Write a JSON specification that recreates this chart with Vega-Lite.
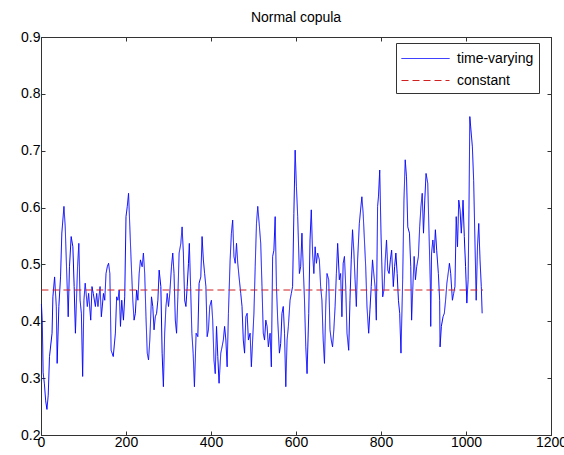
{
  "$schema": "https://vega.github.io/schema/vega-lite/v6.json",
  "width": 510,
  "height": 398,
  "autosize": "none",
  "padding": {"left": 41, "top": 37, "right": 13, "bottom": 20},
  "background": "white",
  "view": {"stroke": "#333", "strokeWidth": 1},
  "title": {"text": "Normal copula", "font": "Liberation Sans", "fontSize": 14, "fontWeight": "normal", "color": "#000", "offset": 5},
  "config": {"font": "Liberation Sans"},
  "data": {"values": [
    {"t":1,"v":0.43,"s":"time-varying"},{"t":3,"v":0.40,"s":"time-varying"},{"t":5,"v":0.31,"s":"time-varying"},{"t":8,"v":0.29,"s":"time-varying"},{"t":11,"v":0.26,"s":"time-varying"},{"t":14,"v":0.245,"s":"time-varying"},{"t":17,"v":0.27,"s":"time-varying"},
    {"t":20,"v":0.338,"s":"time-varying"},{"t":26,"v":0.379,"s":"time-varying"},{"t":28,"v":0.443,"s":"time-varying"},{"t":32,"v":0.478,"s":"time-varying"},{"t":36,"v":0.426,"s":"time-varying"},{"t":38,"v":0.326,"s":"time-varying"},{"t":42,"v":0.426,"s":"time-varying"},{"t":46,"v":0.478,"s":"time-varying"},{"t":49,"v":0.555,"s":"time-varying"},{"t":54,"v":0.602,"s":"time-varying"},{"t":57,"v":0.566,"s":"time-varying"},{"t":60,"v":0.496,"s":"time-varying"},{"t":64,"v":0.408,"s":"time-varying"},{"t":67,"v":0.496,"s":"time-varying"},{"t":71,"v":0.549,"s":"time-varying"},{"t":75,"v":0.531,"s":"time-varying"},{"t":78,"v":0.461,"s":"time-varying"},{"t":81,"v":0.379,"s":"time-varying"},{"t":86,"v":0.496,"s":"time-varying"},{"t":89,"v":0.537,"s":"time-varying"},{"t":92,"v":0.437,"s":"time-varying"},{"t":95,"v":0.414,"s":"time-varying"},{"t":98,"v":0.303,"s":"time-varying"},{"t":101,"v":0.437,"s":"time-varying"},{"t":104,"v":0.467,"s":"time-varying"},{"t":109,"v":0.426,"s":"time-varying"},{"t":112,"v":0.449,"s":"time-varying"},{"t":117,"v":0.402,"s":"time-varying"},{"t":120,"v":0.461,"s":"time-varying"},{"t":123,"v":0.449,"s":"time-varying"},{"t":128,"v":0.426,"s":"time-varying"},{"t":131,"v":0.449,"s":"time-varying"},{"t":134,"v":0.426,"s":"time-varying"},{"t":139,"v":0.461,"s":"time-varying"},{"t":142,"v":0.408,"s":"time-varying"},{"t":147,"v":0.449,"s":"time-varying"},{"t":150,"v":0.437,"s":"time-varying"},{"t":153,"v":0.484,"s":"time-varying"},{"t":156,"v":0.496,"s":"time-varying"},{"t":159,"v":0.502,"s":"time-varying"},{"t":162,"v":0.484,"s":"time-varying"},{"t":165,"v":0.349,"s":"time-varying"},{"t":170,"v":0.338,"s":"time-varying"},{"t":175,"v":0.379,"s":"time-varying"},
    {"t":178,"v":0.443,"s":"time-varying"},{"t":181,"v":0.437,"s":"time-varying"},{"t":184,"v":0.455,"s":"time-varying"},{"t":187,"v":0.391,"s":"time-varying"},{"t":190,"v":0.437,"s":"time-varying"},{"t":194,"v":0.402,"s":"time-varying"},{"t":197,"v":0.443,"s":"time-varying"},{"t":200,"v":0.584,"s":"time-varying"},{"t":203,"v":0.602,"s":"time-varying"},{"t":206,"v":0.625,"s":"time-varying"},{"t":209,"v":0.566,"s":"time-varying"},{"t":212,"v":0.508,"s":"time-varying"},{"t":216,"v":0.437,"s":"time-varying"},{"t":219,"v":0.402,"s":"time-varying"},{"t":222,"v":0.414,"s":"time-varying"},{"t":225,"v":0.455,"s":"time-varying"},{"t":228,"v":0.437,"s":"time-varying"},{"t":231,"v":0.484,"s":"time-varying"},{"t":234,"v":0.508,"s":"time-varying"},{"t":238,"v":0.496,"s":"time-varying"},{"t":241,"v":0.520,"s":"time-varying"},{"t":244,"v":0.484,"s":"time-varying"},{"t":247,"v":0.408,"s":"time-varying"},{"t":250,"v":0.344,"s":"time-varying"},{"t":253,"v":0.332,"s":"time-varying"},{"t":256,"v":0.367,"s":"time-varying"},{"t":260,"v":0.443,"s":"time-varying"},{"t":263,"v":0.426,"s":"time-varying"},{"t":266,"v":0.385,"s":"time-varying"},{"t":269,"v":0.408,"s":"time-varying"},{"t":272,"v":0.414,"s":"time-varying"},{"t":275,"v":0.437,"s":"time-varying"},{"t":278,"v":0.490,"s":"time-varying"},{"t":282,"v":0.461,"s":"time-varying"},{"t":285,"v":0.344,"s":"time-varying"},{"t":288,"v":0.285,"s":"time-varying"},{"t":291,"v":0.379,"s":"time-varying"},{"t":294,"v":0.426,"s":"time-varying"},{"t":297,"v":0.449,"s":"time-varying"},{"t":300,"v":0.426,"s":"time-varying"},{"t":303,"v":0.449,"s":"time-varying"},{"t":307,"v":0.496,"s":"time-varying"},{"t":310,"v":0.520,"s":"time-varying"},{"t":313,"v":0.484,"s":"time-varying"},{"t":316,"v":0.402,"s":"time-varying"},{"t":319,"v":0.379,"s":"time-varying"},{"t":322,"v":0.443,"s":"time-varying"},{"t":325,"v":0.520,"s":"time-varying"},{"t":329,"v":0.537,"s":"time-varying"},{"t":332,"v":0.566,"s":"time-varying"},{"t":335,"v":0.520,"s":"time-varying"},{"t":338,"v":0.437,"s":"time-varying"},{"t":341,"v":0.426,"s":"time-varying"},{"t":344,"v":0.461,"s":"time-varying"},{"t":347,"v":0.502,"s":"time-varying"},
    {"t":349,"v":0.537,"s":"time-varying"},{"t":352,"v":0.461,"s":"time-varying"},{"t":355,"v":0.379,"s":"time-varying"},{"t":358,"v":0.344,"s":"time-varying"},{"t":361,"v":0.285,"s":"time-varying"},{"t":365,"v":0.379,"s":"time-varying"},{"t":369,"v":0.373,"s":"time-varying"},{"t":372,"v":0.467,"s":"time-varying"},{"t":376,"v":0.478,"s":"time-varying"},{"t":379,"v":0.549,"s":"time-varying"},{"t":382,"v":0.508,"s":"time-varying"},{"t":385,"v":0.484,"s":"time-varying"},{"t":388,"v":0.461,"s":"time-varying"},{"t":391,"v":0.373,"s":"time-varying"},{"t":394,"v":0.385,"s":"time-varying"},{"t":397,"v":0.426,"s":"time-varying"},{"t":401,"v":0.437,"s":"time-varying"},{"t":404,"v":0.402,"s":"time-varying"},{"t":407,"v":0.332,"s":"time-varying"},{"t":410,"v":0.308,"s":"time-varying"},{"t":413,"v":0.391,"s":"time-varying"},{"t":416,"v":0.338,"s":"time-varying"},{"t":419,"v":0.291,"s":"time-varying"},{"t":423,"v":0.344,"s":"time-varying"},{"t":426,"v":0.355,"s":"time-varying"},{"t":429,"v":0.367,"s":"time-varying"},{"t":432,"v":0.391,"s":"time-varying"},{"t":435,"v":0.367,"s":"time-varying"},{"t":438,"v":0.320,"s":"time-varying"},{"t":441,"v":0.414,"s":"time-varying"},{"t":445,"v":0.508,"s":"time-varying"},{"t":448,"v":0.555,"s":"time-varying"},{"t":451,"v":0.578,"s":"time-varying"},{"t":454,"v":0.514,"s":"time-varying"},{"t":457,"v":0.502,"s":"time-varying"},{"t":460,"v":0.537,"s":"time-varying"},{"t":463,"v":0.502,"s":"time-varying"},{"t":466,"v":0.478,"s":"time-varying"},{"t":470,"v":0.449,"s":"time-varying"},{"t":473,"v":0.426,"s":"time-varying"},{"t":476,"v":0.367,"s":"time-varying"},{"t":479,"v":0.344,"s":"time-varying"},{"t":482,"v":0.408,"s":"time-varying"},{"t":485,"v":0.414,"s":"time-varying"},{"t":488,"v":0.367,"s":"time-varying"},{"t":492,"v":0.379,"s":"time-varying"},{"t":495,"v":0.320,"s":"time-varying"},{"t":498,"v":0.367,"s":"time-varying"},{"t":501,"v":0.414,"s":"time-varying"},{"t":504,"v":0.496,"s":"time-varying"},{"t":507,"v":0.572,"s":"time-varying"},{"t":510,"v":0.602,"s":"time-varying"},{"t":514,"v":0.566,"s":"time-varying"},{"t":517,"v":0.537,"s":"time-varying"},{"t":520,"v":0.461,"s":"time-varying"},{"t":523,"v":0.379,"s":"time-varying"},
    {"t":526,"v":0.367,"s":"time-varying"},{"t":529,"v":0.402,"s":"time-varying"},{"t":532,"v":0.391,"s":"time-varying"},{"t":535,"v":0.355,"s":"time-varying"},{"t":539,"v":0.379,"s":"time-varying"},{"t":542,"v":0.320,"s":"time-varying"},{"t":545,"v":0.514,"s":"time-varying"},{"t":548,"v":0.525,"s":"time-varying"},{"t":551,"v":0.584,"s":"time-varying"},{"t":554,"v":0.461,"s":"time-varying"},{"t":557,"v":0.402,"s":"time-varying"},{"t":561,"v":0.344,"s":"time-varying"},{"t":564,"v":0.361,"s":"time-varying"},{"t":567,"v":0.414,"s":"time-varying"},{"t":570,"v":0.426,"s":"time-varying"},{"t":573,"v":0.379,"s":"time-varying"},{"t":576,"v":0.285,"s":"time-varying"},{"t":579,"v":0.367,"s":"time-varying"},{"t":582,"v":0.391,"s":"time-varying"},{"t":586,"v":0.437,"s":"time-varying"},{"t":589,"v":0.449,"s":"time-varying"},{"t":592,"v":0.461,"s":"time-varying"},{"t":595,"v":0.590,"s":"time-varying"},{"t":598,"v":0.701,"s":"time-varying"},{"t":601,"v":0.637,"s":"time-varying"},{"t":604,"v":0.584,"s":"time-varying"},{"t":608,"v":0.484,"s":"time-varying"},{"t":611,"v":0.496,"s":"time-varying"},{"t":614,"v":0.555,"s":"time-varying"},{"t":617,"v":0.496,"s":"time-varying"},{"t":620,"v":0.437,"s":"time-varying"},{"t":623,"v":0.355,"s":"time-varying"},{"t":626,"v":0.308,"s":"time-varying"},{"t":630,"v":0.414,"s":"time-varying"},{"t":633,"v":0.543,"s":"time-varying"},{"t":636,"v":0.596,"s":"time-varying"},{"t":639,"v":0.520,"s":"time-varying"},{"t":642,"v":0.484,"s":"time-varying"},{"t":645,"v":0.531,"s":"time-varying"},{"t":648,"v":0.502,"s":"time-varying"},{"t":651,"v":0.520,"s":"time-varying"},{"t":655,"v":0.508,"s":"time-varying"},{"t":658,"v":0.461,"s":"time-varying"},{"t":661,"v":0.437,"s":"time-varying"},{"t":664,"v":0.367,"s":"time-varying"},{"t":667,"v":0.326,"s":"time-varying"},{"t":670,"v":0.426,"s":"time-varying"},{"t":673,"v":0.484,"s":"time-varying"},{"t":677,"v":0.473,"s":"time-varying"},{"t":680,"v":0.385,"s":"time-varying"},{"t":683,"v":0.367,"s":"time-varying"},{"t":686,"v":0.355,"s":"time-varying"},{"t":689,"v":0.385,"s":"time-varying"},{"t":692,"v":0.426,"s":"time-varying"},{"t":695,"v":0.484,"s":"time-varying"},
    {"t":698,"v":0.537,"s":"time-varying"},{"t":702,"v":0.473,"s":"time-varying"},{"t":705,"v":0.484,"s":"time-varying"},{"t":708,"v":0.408,"s":"time-varying"},{"t":711,"v":0.502,"s":"time-varying"},{"t":714,"v":0.514,"s":"time-varying"},{"t":717,"v":0.461,"s":"time-varying"},{"t":720,"v":0.379,"s":"time-varying"},{"t":724,"v":0.349,"s":"time-varying"},{"t":727,"v":0.437,"s":"time-varying"},{"t":730,"v":0.508,"s":"time-varying"},{"t":733,"v":0.561,"s":"time-varying"},{"t":736,"v":0.525,"s":"time-varying"},{"t":739,"v":0.473,"s":"time-varying"},{"t":742,"v":0.426,"s":"time-varying"},{"t":745,"v":0.508,"s":"time-varying"},{"t":749,"v":0.572,"s":"time-varying"},{"t":752,"v":0.596,"s":"time-varying"},{"t":755,"v":0.619,"s":"time-varying"},{"t":758,"v":0.590,"s":"time-varying"},{"t":761,"v":0.543,"s":"time-varying"},{"t":764,"v":0.496,"s":"time-varying"},{"t":767,"v":0.426,"s":"time-varying"},{"t":771,"v":0.379,"s":"time-varying"},{"t":774,"v":0.420,"s":"time-varying"},{"t":777,"v":0.461,"s":"time-varying"},{"t":780,"v":0.508,"s":"time-varying"},{"t":783,"v":0.484,"s":"time-varying"},{"t":786,"v":0.461,"s":"time-varying"},{"t":789,"v":0.402,"s":"time-varying"},{"t":792,"v":0.602,"s":"time-varying"},{"t":794,"v":0.619,"s":"time-varying"},{"t":797,"v":0.666,"s":"time-varying"},{"t":800,"v":0.555,"s":"time-varying"},{"t":804,"v":0.443,"s":"time-varying"},{"t":807,"v":0.455,"s":"time-varying"},{"t":810,"v":0.508,"s":"time-varying"},{"t":813,"v":0.543,"s":"time-varying"},{"t":816,"v":0.490,"s":"time-varying"},{"t":819,"v":0.484,"s":"time-varying"},{"t":822,"v":0.508,"s":"time-varying"},{"t":825,"v":0.525,"s":"time-varying"},{"t":829,"v":0.461,"s":"time-varying"},{"t":832,"v":0.496,"s":"time-varying"},{"t":835,"v":0.520,"s":"time-varying"},{"t":838,"v":0.484,"s":"time-varying"},{"t":841,"v":0.437,"s":"time-varying"},{"t":844,"v":0.414,"s":"time-varying"},{"t":847,"v":0.344,"s":"time-varying"},{"t":851,"v":0.473,"s":"time-varying"},{"t":854,"v":0.613,"s":"time-varying"},{"t":857,"v":0.684,"s":"time-varying"},{"t":860,"v":0.654,"s":"time-varying"},{"t":863,"v":0.566,"s":"time-varying"},
    {"t":867,"v":0.555,"s":"time-varying"},{"t":870,"v":0.496,"s":"time-varying"},{"t":872,"v":0.402,"s":"time-varying"},{"t":875,"v":0.461,"s":"time-varying"},{"t":878,"v":0.514,"s":"time-varying"},{"t":881,"v":0.473,"s":"time-varying"},{"t":884,"v":0.496,"s":"time-varying"},{"t":888,"v":0.514,"s":"time-varying"},{"t":891,"v":0.566,"s":"time-varying"},{"t":894,"v":0.602,"s":"time-varying"},{"t":897,"v":0.625,"s":"time-varying"},{"t":900,"v":0.555,"s":"time-varying"},{"t":903,"v":0.613,"s":"time-varying"},{"t":906,"v":0.660,"s":"time-varying"},{"t":910,"v":0.643,"s":"time-varying"},{"t":913,"v":0.555,"s":"time-varying"},{"t":916,"v":0.467,"s":"time-varying"},{"t":917,"v":0.391,"s":"time-varying"},{"t":919,"v":0.520,"s":"time-varying"},{"t":922,"v":0.543,"s":"time-varying"},{"t":925,"v":0.520,"s":"time-varying"},{"t":928,"v":0.561,"s":"time-varying"},{"t":931,"v":0.525,"s":"time-varying"},{"t":935,"v":0.484,"s":"time-varying"},{"t":938,"v":0.437,"s":"time-varying"},{"t":939,"v":0.355,"s":"time-varying"},{"t":942,"v":0.391,"s":"time-varying"},{"t":946,"v":0.408,"s":"time-varying"},{"t":949,"v":0.414,"s":"time-varying"},{"t":952,"v":0.437,"s":"time-varying"},{"t":955,"v":0.467,"s":"time-varying"},{"t":958,"v":0.484,"s":"time-varying"},{"t":961,"v":0.502,"s":"time-varying"},{"t":964,"v":0.484,"s":"time-varying"},{"t":968,"v":0.437,"s":"time-varying"},{"t":971,"v":0.449,"s":"time-varying"},{"t":974,"v":0.461,"s":"time-varying"},{"t":977,"v":0.584,"s":"time-varying"},{"t":980,"v":0.531,"s":"time-varying"},{"t":983,"v":0.613,"s":"time-varying"},{"t":986,"v":0.596,"s":"time-varying"},{"t":989,"v":0.555,"s":"time-varying"},{"t":993,"v":0.613,"s":"time-varying"},{"t":996,"v":0.549,"s":"time-varying"},{"t":999,"v":0.496,"s":"time-varying"},{"t":1002,"v":0.432,"s":"time-varying"},{"t":1005,"v":0.473,"s":"time-varying"},{"t":1007,"v":0.596,"s":"time-varying"},{"t":1009,"v":0.760,"s":"time-varying"},{"t":1011,"v":0.742,"s":"time-varying"},{"t":1015,"v":0.707,"s":"time-varying"},{"t":1018,"v":0.648,"s":"time-varying"},{"t":1021,"v":0.543,"s":"time-varying"},{"t":1024,"v":0.437,"s":"time-varying"},{"t":1027,"v":0.531,"s":"time-varying"},{"t":1030,"v":0.572,"s":"time-varying"},{"t":1033,"v":0.508,"s":"time-varying"},{"t":1036,"v":0.461,"s":"time-varying"},{"t":1038,"v":0.414,"s":"time-varying"},
    {"t":1,"v":0.455,"s":"constant"},{"t":1040,"v":0.455,"s":"constant"}
  ]},
  "layer": [
    {
      "mark": {"type": "line", "strokeWidth": 1, "interpolate": "linear"},
      "encoding": {
        "x": {"field": "t", "type": "quantitative", "scale": {"domain": [0, 1200], "nice": false, "zero": false},
              "axis": {"orient": "bottom", "values": [0,200,400,600,800,1000,1200], "format": "d", "title": null, "grid": false, "domainColor": "#333", "tickColor": "#333", "tickSize": -4, "labelPadding": 4, "labelFontSize": 14, "labelFont": "Liberation Sans", "labelColor": "#000", "labelFlush": false}},
        "y": {"field": "v", "type": "quantitative", "scale": {"domain": [0.2, 0.9], "nice": false, "zero": false},
              "axis": {"orient": "left", "values": [0.2,0.3,0.4,0.5,0.6,0.7,0.8,0.9], "format": ".1f", "title": null, "grid": false, "domainColor": "#333", "tickColor": "#333", "tickSize": -4, "labelPadding": 5, "labelFontSize": 14, "labelFont": "Liberation Sans", "labelColor": "#000", "labelFlush": false}},
        "color": {"field": "s", "type": "nominal", "scale": {"domain": ["time-varying", "constant"], "range": ["#0000ff", "#d02020"]},
                  "legend": {"title": null, "orient": "none", "legendX": 355, "legendY": 6, "fillColor": "white", "strokeColor": "#333", "padding": 5, "symbolType": "M-2.4,0H2.4", "symbolSize": 400, "symbolOffset": 14, "symbolStrokeWidth": 1, "labelFontSize": 14, "labelFont": "Liberation Sans", "labelColor": "#000", "rowPadding": 4, "labelOffset": 21}},
        "strokeDash": {"field": "s", "type": "nominal", "scale": {"domain": ["time-varying", "constant"], "range": [[1, 0], [7, 4]]}, "legend": null},
        "order": {"field": "t", "type": "quantitative"}
      }
    },
    {
      "mark": {"type": "line", "opacity": 0},
      "encoding": {
        "x": {"field": "t", "type": "quantitative", "axis": {"orient": "top", "values": [0,200,400,600,800,1000,1200], "labels": false, "title": null, "grid": false, "domainColor": "#333", "tickColor": "#333", "tickSize": -4}},
        "y": {"field": "v", "type": "quantitative", "axis": {"orient": "right", "values": [0.2,0.3,0.4,0.5,0.6,0.7,0.8,0.9], "labels": false, "title": null, "grid": false, "domainColor": "#333", "tickColor": "#333", "tickSize": -4}}
      }
    }
  ],
  "resolve": {"axis": {"x": "independent", "y": "independent"}}
}
